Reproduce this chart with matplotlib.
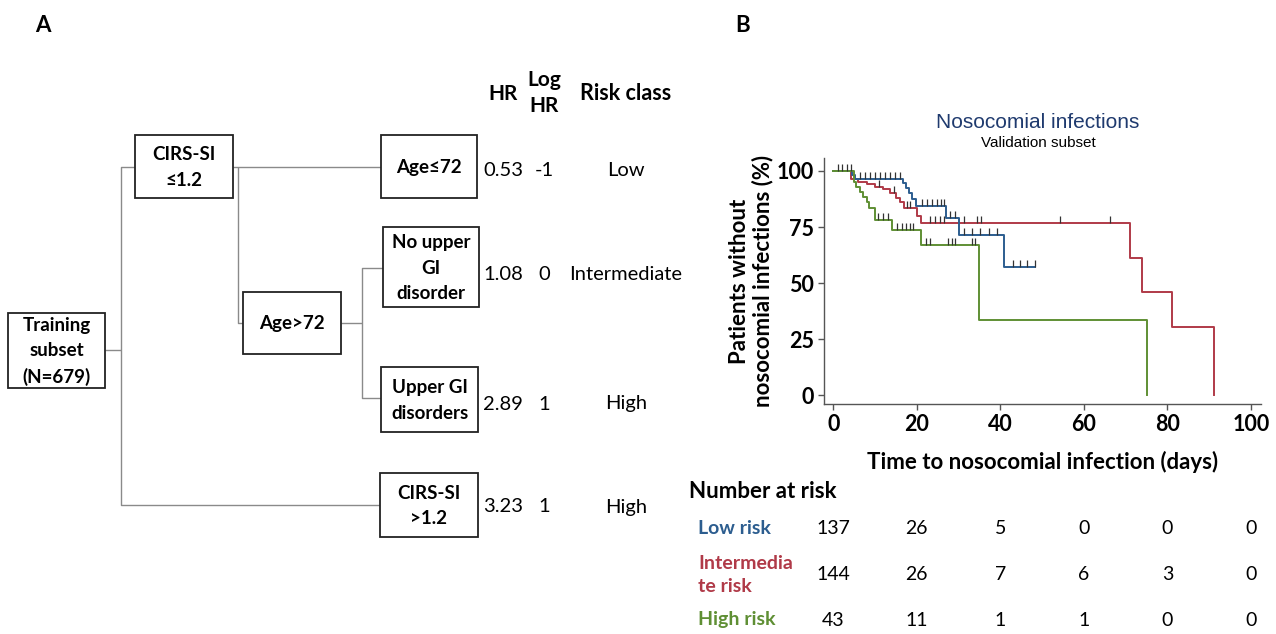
import numpy as np
import matplotlib
matplotlib.use("Agg")
import matplotlib.pyplot as plt
import matplotlib.transforms as mtransforms
from matplotlib.patches import Rectangle

# ── palette / fonts ──────────────────────────────────────────────────────────
BLUE  = "#2c5d8f"
RED   = "#b03a48"
GREEN = "#5f8f34"
NAVY  = "#1f3a6e"
LINE  = "#8a8a8a"
FONT  = "Lato"
plt.rcParams["font.family"] = [FONT, "DejaVu Sans"]

# ── panel A: decision tree ───────────────────────────────────────────────────
NODE_LABELS = ["Training\nsubset\n(N=679)", "CIRS-SI\n≤1.2", "Age≤72", "Age>72",
               "No upper\nGI\ndisorder", "Upper GI\ndisorders", "CIRS-SI\n>1.2"]
HR_VALUES   = ["0.53", "1.08", "2.89", "3.23"]
LOG_HR      = ["-1", "0", "1", "1"]
RISK_CLASS  = ["Low", "Intermediate", "High", "High"]

# ── panel B: Kaplan-Meier, validation subset ─────────────────────────────────
LOW_T  = [0, 4.6, 5.3, 16.8, 17.5, 18.2, 18.8, 19.9, 27.0, 30.0, 41.0, 48.4]
LOW_S  = [100, 98.2, 96.4, 94.5, 92.3, 90.0, 87.5, 84.4, 78.9, 71.4, 57.3, 57.3]
LOW_C  = [1.2, 2.2, 6.5, 7.7, 8.9, 10.1, 11.3, 12.5, 13.7, 14.9, 16.1,
          21.2, 22.4, 23.6, 24.8, 25.8, 26.6, 28.0, 29.2,
          31.2, 33.2, 35.2, 37.2, 39.1, 43.1, 44.7, 46.3, 48.3]

INT_T  = [0, 4.2, 6.0, 8.0, 10.0, 12.0, 13.5, 15.0, 16.0, 17.0, 20.0, 21.0, 71.0, 74.0, 81.1, 91.1]
INT_S  = [100, 96.4, 95.3, 94.2, 93.0, 91.8, 90.0, 88.0, 86.0, 83.5, 80.0, 76.7, 61.3, 45.8, 30.5, 0]
INT_C  = [3.2, 11.0, 14.5, 17.6, 18.5, 23.2, 24.4, 25.6, 26.6, 31.2, 34.4, 35.3, 54.3, 66.3]

HIGH_T = [0, 4.9, 5.5, 6.3, 7.2, 8.0, 8.6, 10.0, 14.1, 20.9, 35.0, 75.1]
HIGH_S = [100, 95.3, 93.0, 90.7, 88.4, 86.0, 83.7, 78.1, 73.6, 66.8, 33.3, 0]
HIGH_C = [4.3, 10.8, 12.0, 13.2, 15.2, 16.4, 17.4, 18.4, 19.2,
          22.2, 23.2, 27.6, 28.4, 29.2, 33.2, 34.0]

RISK_GROUPS  = ["Low risk", "Intermedia\nte risk", "High risk"]
RISK_TIMES   = [0, 20, 40, 60, 80, 100]
AT_RISK_LOW  = [137, 26, 5, 0, 0, 0]
AT_RISK_INT  = [144, 26, 7, 6, 3, 0]
AT_RISK_HIGH = [43, 11, 1, 1, 0, 0]

W, H = 1276, 634
fig = plt.figure(figsize=(W / 100, H / 100), dpi=100)
fig.patch.set_facecolor("white")

# full-figure canvas in pixel units for the tree and the table
bg = fig.add_axes([0, 0, 1, 1])
bg.set_xlim(0, W)
bg.set_ylim(H, 0)
bg.axis("off")

bg.text(43, 26, "A", fontsize=16, fontweight="bold", ha="center", va="center")
bg.text(743, 26, "B", fontsize=16, fontweight="bold", ha="center", va="center")

# box geometry (x0, y0, x1, y1) in pixels
BOXES = [(8, 313, 105, 388), (135, 135, 233, 198), (381, 135, 477, 198),
         (243, 292, 341, 354), (383, 227, 479, 307), (381, 367, 478, 432),
         (380, 473, 478, 537)]

segments = [
    [(105, 350), (121, 350)],
    [(135, 167), (121, 167), (121, 505), (380, 505)],
    [(233, 167), (381, 167)],
    [(238, 167), (238, 323), (243, 323)],
    [(341, 323), (362, 323)],
    [(383, 268), (362, 268), (362, 398), (381, 398)],
]
for seg in segments:
    xs, ys = zip(*seg)
    bg.plot(xs, ys, color=LINE, lw=1.0, solid_capstyle="butt")

for (x0, y0, x1, y1), lab in zip(BOXES, NODE_LABELS):
    bg.add_patch(Rectangle((x0, y0), x1 - x0, y1 - y0, facecolor="white",
                           edgecolor="#222222", lw=1.3, zorder=3))
    bg.text((x0 + x1) / 2, (y0 + y1) / 2 + 1, lab, ha="center", va="center",
            fontsize=13.5, fontweight="bold", linespacing=1.6, zorder=4)

# HR / log HR / risk class table
COL_X = [503, 544, 626]
ROW_Y = [170, 275, 404, 507]
bg.text(COL_X[0], 94, "HR", fontsize=15, fontweight="bold", ha="center", va="center")
bg.text(COL_X[1], 93, "Log\nHR", fontsize=15, fontweight="bold", ha="center", va="center",
        linespacing=1.4)
bg.text(COL_X[2], 94, "Risk class", fontsize=15.5, fontweight="bold", ha="center", va="center")
for y, hr, lhr, rc in zip(ROW_Y, HR_VALUES, LOG_HR, RISK_CLASS):
    bg.text(COL_X[0], y, hr, fontsize=14.5, ha="center", va="center")
    bg.text(COL_X[1], y, lhr, fontsize=14.5, ha="center", va="center")
    bg.text(COL_X[2], y, rc, fontsize=14.5, ha="center", va="center")

# ══════════════════════════════════════════════════════════════════
# Kaplan-Meier panel
# ══════════════════════════════════════════════════════════════════
ax_l, ax_r, ax_t, ax_b = 824, 1261, 158, 404
ax = fig.add_axes([ax_l / W, 1 - ax_b / H, (ax_r - ax_l) / W, (ax_b - ax_t) / H])
ax.set_xlim(-2.2, 102.4)
ax.set_ylim(-4.0, 105.8)
for s in ["top", "right"]:
    ax.spines[s].set_visible(False)
for s in ["left", "bottom"]:
    ax.spines[s].set_color("#555555")
    ax.spines[s].set_linewidth(1.0)
ax.set_xticks(RISK_TIMES)
ax.set_yticks([0, 25, 50, 75, 100])
ax.tick_params(direction="out", length=4, width=1, color="#555555",
               labelsize=15.5, pad=3)
for lab in ax.get_xticklabels() + ax.get_yticklabels():
    lab.set_fontweight("bold")
ax.set_xlabel("Time to nosocomial infection (days)", fontsize=16,
              fontweight="bold", labelpad=12)
ax.set_ylabel("Patients without\nnosocomial infections (%)", fontsize=16,
              fontweight="bold", labelpad=3, linespacing=1.05)


def km(times, surv, cens, color):
    ax.step(times, surv, where="post", color=color, lw=1.4, zorder=3)
    t = np.asarray(times)
    s = np.asarray(surv)
    idx = np.searchsorted(t, cens, side="right") - 1
    ax.plot(cens, s[idx], linestyle="none", marker=2, markersize=5,
            markeredgewidth=0.9, color="#333333", zorder=4)


km(INT_T, INT_S, INT_C, RED)
km(LOW_T, LOW_S, LOW_C, BLUE)
km(HIGH_T, HIGH_S, HIGH_C, GREEN)

fig.text(1038 / W, 1 - 122 / H, "Nosocomial infections", color=NAVY, fontsize=15,
         family="Liberation Sans", ha="center", va="center")
fig.text(1038 / W, 1 - 143 / H, "Validation subset", color="black", fontsize=11,
         family="Liberation Sans", ha="center", va="center")

# ── number at risk table ─────────────────────────────────────────────────────
trans = mtransforms.blended_transform_factory(ax.transData, bg.transData)
bg.text(689, 492, "Number at risk", fontsize=16, fontweight="bold", ha="left", va="center")
TABLE_Y = [528, 575, 620]
for y, name, col, counts in zip(TABLE_Y, RISK_GROUPS, [BLUE, RED, GREEN],
                                [AT_RISK_LOW, AT_RISK_INT, AT_RISK_HIGH]):
    bg.text(698, y, name, color=col, fontsize=14, fontweight="bold", ha="left",
            va="center", linespacing=1.4)
    for t, n in zip(RISK_TIMES, counts):
        bg.text(t, y, str(n), transform=trans, fontsize=14, ha="center", va="center")

fig.savefig("out.png", dpi=100, facecolor="white")
